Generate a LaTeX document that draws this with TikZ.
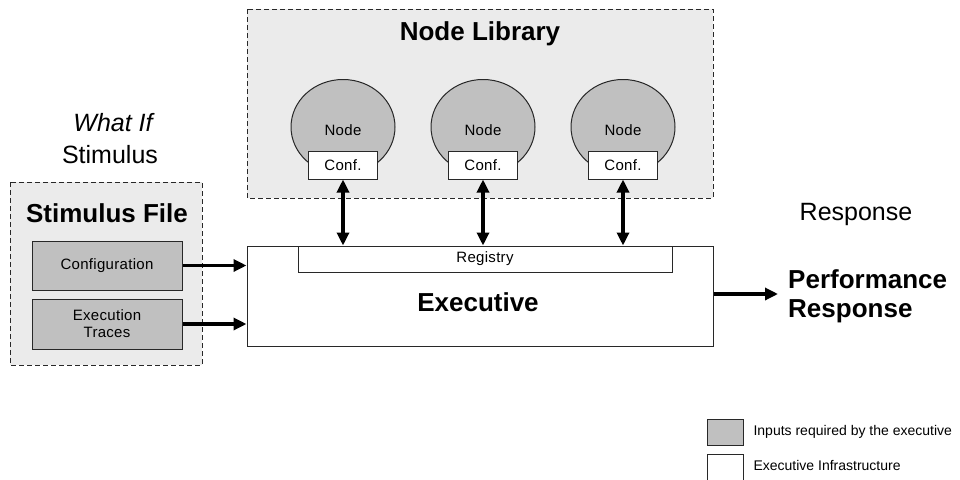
\documentclass[tikz,border=0pt]{standalone}
\usepackage{fontspec}
\setmainfont{Liberation Sans}
\newfontfamily\smallsans[LetterSpace=2]{Liberation Sans}
\usetikzlibrary{arrows.meta,shapes.geometric}
\definecolor{panel}{RGB}{235,235,235}
\definecolor{inputfill}{RGB}{192,192,192}
\definecolor{edge}{RGB}{40,40,40}
\tikzset{
  smalltext/.style={font=\smallsans\fontsize{15}{17}\selectfont},
  group/.style={draw=edge, fill=panel, dash pattern=on 5pt off 3pt, line width=1pt},
  inputbox/.style={draw=edge, fill=inputfill, line width=1pt, inner sep=0pt,
    smalltext, align=center},
  infrabox/.style={draw=edge, fill=white, line width=1pt, inner sep=0pt,
    smalltext, align=center},
  nodecircle/.style={ellipse, draw=edge, fill=inputfill, line width=1pt,
    minimum width=104pt, minimum height=95pt, inner sep=0pt},
  flow/.style={line width=3.2pt, -{Triangle[length=13pt,width=12pt]}},
  biflow/.style={line width=3.2pt, {Triangle[length=13pt,width=12pt]}-{Triangle[length=13pt,width=12pt]}},
  heading/.style={font=\bfseries\fontsize{26}{29}\selectfont},
  plain/.style={font=\fontsize{25}{29}\selectfont},
  legendtext/.style={font=\fontsize{14}{16}\selectfont, anchor=west}
}
\begin{document}
\begin{tikzpicture}[x=1pt,y=-1pt]
\useasboundingbox (0,0) rectangle (960,479);
\clip (0,0) rectangle (960,479);

% Node library panel with its three nodes
\draw[group] (247,9) rectangle (713,198);
\node[heading] (libtitle) at (480,34) {Node Library};
\foreach \i/\x in {1/343,2/483,3/623}{
  \node[nodecircle] (node\i) at (\x,127) {};
  \node[smalltext] (nodelbl\i) at (\x,130) {Node};
  \node[infrabox, minimum width=69pt, minimum height=28pt] (conf\i) at (\x,165) {Conf.};
}

% Stimulus side
\node[font=\itshape\fontsize{25}{29}\selectfont] (whatif) at (113,123) {What If};
\node[plain] (stim) at (110,155) {Stimulus};
\draw[group] (10,182) rectangle (202,365);
\node[heading] (stimtitle) at (107,213) {Stimulus File};
\node[inputbox, minimum width=150pt, minimum height=49pt] (config) at (107,265.5) {Configuration};
\node[inputbox, minimum width=150pt, minimum height=50pt] (traces) at (107,324) {Execution\\Traces};

% Executive with its registry
\node[draw=edge, fill=white, line width=1pt, minimum width=466pt, minimum height=100pt, inner sep=0pt] (exec) at (480,296) {};
\node[infrabox, minimum width=374pt, minimum height=26pt] (registry) at (485,259) {Registry};
\node[heading] (execlbl) at (478,302) {Executive};

% Links between parts
\foreach \i in {1,2,3}{
  \draw[biflow] (conf\i.south) -- (conf\i.south |- exec.north);
}
\coordinate (in1) at (exec.west |- config.east);
\coordinate (in2) at (exec.west |- traces.east);
\draw[flow] (config.east) -- (in1);
\draw[flow] (traces.east) -- (in2);

% Response side
\node[plain] (resp) at (856,214) {Response};
\node[heading, anchor=west, align=left, inner xsep=0pt] (perf) at (788,296) {Performance\\Response};
\coordinate (respin) at (778,294);
\draw[flow] (exec.east |- respin) -- (respin);

% Legend
\node[draw=edge, fill=inputfill, line width=1pt, minimum width=36pt, minimum height=26pt] (leg1) at (725,432) {};
\node[legendtext] (leg1txt) at (750,432) {Inputs required by the executive};
\draw[draw=edge, fill=white, line width=1pt] (707,454) rectangle (743,495);
\node[legendtext] (leg2txt) at (750,465) {Executive Infrastructure};
\end{tikzpicture}
\end{document}
